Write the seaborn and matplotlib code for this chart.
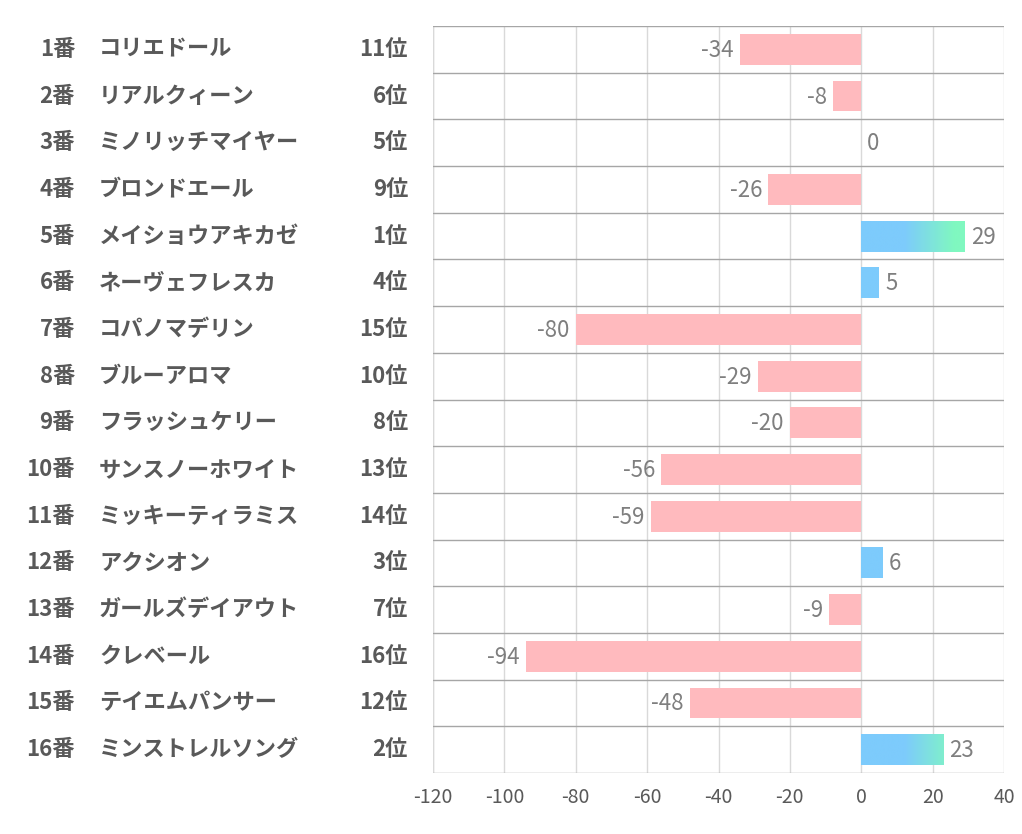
import numpy as np
import pandas as pd
import matplotlib
matplotlib.use("Agg")
import matplotlib.pyplot as plt
import matplotlib.transforms as mtransforms
from matplotlib.colors import LinearSegmentedColormap
import seaborn as sns

numbers = [f"{i}番" for i in range(1, 17)]
names = ["コリエドール", "リアルクィーン", "ミノリッチマイヤー", "ブロンドエール",
         "メイショウアキカゼ", "ネーヴェフレスカ", "コパノマデリン", "ブルーアロマ",
         "フラッシュケリー", "サンスノーホワイト", "ミッキーティラミス", "アクシオン",
         "ガールズデイアウト", "クレベール", "テイエムパンサー", "ミンストレルソング"]
ranks = ["11位", "6位", "5位", "9位", "1位", "4位", "15位", "10位",
         "8位", "13位", "14位", "3位", "7位", "16位", "12位", "2位"]
values = [-34, -8, 0, -26, 29, 5, -80, -29, -20, -56, -59, 6, -9, -94, -48, 23]
xticks = [-120, -100, -80, -60, -40, -20, 0, 20, 40]

PINK = "#ffbabe"
BLUE = "#7dcbfc"
GREEN = "#80f8c0"
TEXT = "#595959"

sns.set_theme(style="white")
plt.rcParams["font.family"] = ["Noto Sans CJK JP", "DejaVu Sans"]

df = pd.DataFrame({"horse": numbers, "value": values})
df["sign"] = np.where(df["value"] > 0, "pos", "neg")

fig = plt.figure(figsize=(10.22, 8.34), dpi=100)
ax = fig.add_axes([433 / 1022, 1 - 773 / 834, 571 / 1022, 747 / 834])

sns.barplot(data=df, x="value", y="horse", hue="sign", orient="h",
            palette={"pos": BLUE, "neg": PINK}, dodge=False, legend=False,
            width=0.66, saturation=1, linewidth=0, ax=ax, zorder=3)

# gradient on positive bars
cmap = LinearSegmentedColormap.from_list("bg", [(0, BLUE), (0.42, BLUE), (0.9, GREEN), (1, GREEN)])
grad = np.linspace(0, 1, 256).reshape(1, -1)
for p in ax.patches:
    if p.get_width() > 0:
        y0 = p.get_y()
        y1 = y0 + p.get_height()
        im = ax.imshow(grad, extent=[0, 29, y1, y0], aspect="auto", cmap=cmap,
                       zorder=4, interpolation="bilinear")
        im.set_clip_path(p)

ax.set_xlim(-120, 40)
ax.set_ylim(15.5, -0.5)
ax.set_xticks(xticks)
ax.set_xticklabels([str(t) for t in xticks], color="#595959", fontsize=14)
ax.tick_params(axis="x", length=0, pad=10)
ax.set_yticks([])
ax.set_xlabel("")
ax.set_ylabel("")
for s in ax.spines.values():
    s.set_visible(False)
ax.grid(axis="x", color="#d9d9d9", lw=1, zorder=0)
ax.axvline(-120, color="#d9d9d9", lw=1, zorder=1)
for k in range(17):
    ax.axhline(k - 0.5, color="#a6a6a6", lw=1, zorder=2)

off = mtransforms.offset_copy
for i, v in enumerate(values):
    if v < 0:
        tr = off(ax.transData, fig=fig, x=-6, y=-1, units="dots")
        ax.text(v, i, str(v), transform=tr, ha="right", va="center",
                fontsize=16, color="#7f7f7f", zorder=5)
    else:
        tr = off(ax.transData, fig=fig, x=6, y=-1, units="dots")
        ax.text(v, i, str(v), transform=tr, ha="left", va="center",
                fontsize=16, color="#7f7f7f", zorder=5)

blend = mtransforms.blended_transform_factory(fig.transFigure, ax.transData)
for i in range(16):
    ax.text(75 / 1022, i, numbers[i], transform=blend, ha="right", va="center",
            fontsize=16, fontweight="bold", color=TEXT, clip_on=False)
    ax.text(99 / 1022, i, names[i], transform=blend, ha="left", va="center",
            fontsize=16, fontweight="bold", color=TEXT, clip_on=False)
    ax.text(408 / 1022, i, ranks[i], transform=blend, ha="right", va="center",
            fontsize=16, fontweight="bold", color=TEXT, clip_on=False)

fig.savefig("out.png", dpi=100, facecolor="white")
